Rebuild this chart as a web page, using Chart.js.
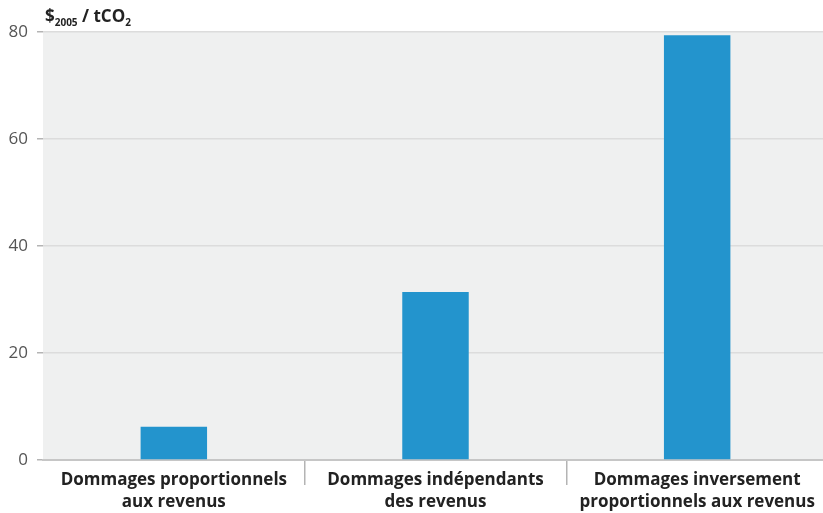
<!DOCTYPE html>
<html>
<head>
<meta charset="utf-8">
<script src="https://cdn.jsdelivr.net/npm/chart.js@4/dist/chart.umd.min.js"></script>
<style>
    html, body { margin: 0; padding: 0; background: #fff; overflow: hidden; }
    /* plot runs a few px past the right edge of the window, as in the original */
    #wrap { width: 828px; height: 513px; }
</style>
</head>
<body>
<div id="wrap"><canvas id="chart"></canvas></div>
<script>
// data
var categories = [
    ["Dommages proportionnels", "aux revenus"],
    ["Dommages indépendants", "des revenus"],
    ["Dommages inversement", "proportionnels aux revenus"]
];
var values = [6.2, 31.4, 79.4];
var yTicks = [0, 20, 40, 60, 80];

// light grey plot area + unit title with subscripts
var plotBg = {
    id: 'plotBg',
    beforeDraw: function(chart) {
        var a = chart.chartArea, ctx = chart.ctx;
        ctx.save();
        ctx.fillStyle = '#eff0f0';
        ctx.fillRect(a.left, a.top, a.right - a.left, a.bottom - a.top);
        ctx.restore();
    },
    afterDraw: function(chart) {
        var ctx = chart.ctx;
        var x = 45, y = 22;
        var parts = [
            ['$', 'bold 17px "Open Sans"', 0],
            ['2005', 'bold 10px "Open Sans"', 4],
            [' / tCO', 'bold 17px "Open Sans"', 0],
            ['2', 'bold 10px "Open Sans"', 4]
        ];
        ctx.save();
        ctx.fillStyle = '#222';
        ctx.textBaseline = 'alphabetic';
        parts.forEach(function(p) {
            ctx.font = p[1];
            ctx.fillText(p[0], x, y + p[2]);
            x += ctx.measureText(p[0]).width;
        });
        ctx.restore();
    }
};

new Chart(document.getElementById('chart'), {
    type: 'bar',
    data: {
        labels: categories,
        datasets: [{
            data: values,
            backgroundColor: '#2394cd',
            categoryPercentage: 1,
            barPercentage: 0.254
        }]
    },
    options: {
        responsive: true,
        maintainAspectRatio: false,
        animation: false,
        layout: { padding: { top: 32, right: 0, left: 0, bottom: 0 } },
        plugins: {
            legend: { display: false },
            tooltip: { enabled: false }
        },
        scales: {
            x: {
                grid: {
                    offset: true,
                    drawOnChartArea: false,
                    drawTicks: true,
                    tickLength: 25,
                    lineWidth: 1.5,
                    color: function(ctx) {
                        return (ctx.index === 0 || ctx.index === categories.length) ? 'rgba(0,0,0,0)' : '#b4b4b4';
                    }
                },
                border: { display: true, color: '#c6c6c6', width: 2 },
                ticks: {
                    color: '#222',
                    font: { family: '"Open Sans"', size: 17, weight: 'bold', lineHeight: 1.25 },
                    padding: -15,
                    maxRotation: 0
                },
                afterFit: function(scale) { scale.height = 53; }
            },
            y: {
                min: 0,
                max: 80,
                afterBuildTicks: function(scale) {
                    scale.ticks = yTicks.map(function(v) { return { value: v }; });
                },
                grid: {
                    color: '#dcdcdc',
                    tickColor: '#b4b4b4',
                    lineWidth: 1.5,
                    tickLength: 6
                },
                border: { display: false },
                ticks: {
                    color: '#555',
                    font: { family: '"Open Sans"', size: 17 },
                    padding: 9
                },
                afterFit: function(scale) { scale.width = 43; }
            }
        }
    },
    plugins: [plotBg]
});
</script>
</body>
</html>
